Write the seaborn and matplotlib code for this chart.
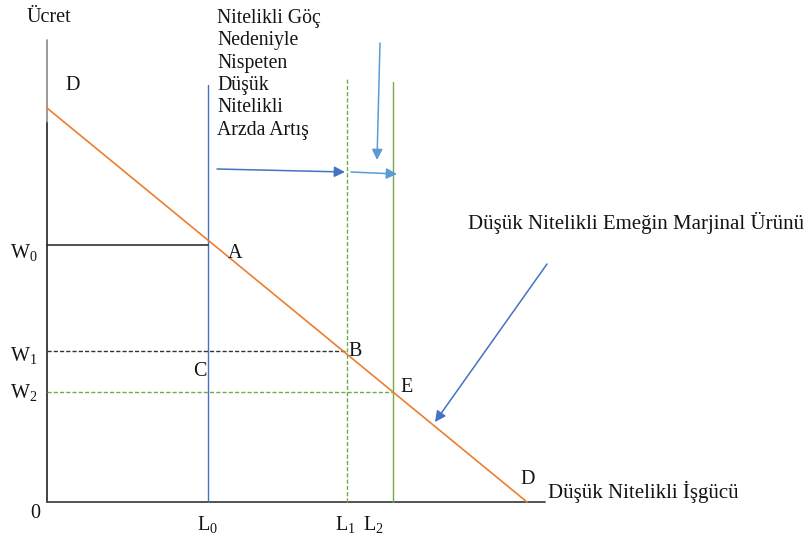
import matplotlib
matplotlib.use("Agg")
import matplotlib.pyplot as plt
import seaborn as sns

sns.set_theme(style="white")
plt.rcParams["font.family"] = ["Liberation Serif", "DejaVu Serif"]
plt.rcParams["mathtext.default"] = "regular"

# ── data (diagram units: origin at 0, labour to the right, wage up) ─────────
demand_L = [0, 480]          # demand / MP line end points on the axes
demand_W = [394, 0]

labor_names = ["L$_0$", "L$_1$", "L$_2$"]
labor_values = [161, 300, 346]
labor_tops = [417, 423, 420]          # how high each supply line reaches

wage_names = ["W$_0$", "W$_1$", "W$_2$"]
wage_values = [257, 151, 110]
wage_ends = [161, 300, 346]           # horizontal guide lines run to these L

axis_top = 462
axis_right = 498

block_text = ["Nitelikli Göç", "Nedeniyle", "Nispeten", "Düşük",
              "Nitelikli", "Arzda Artış"]

BLUE = "#4472C4"
LBLUE = "#5B9BD5"
GREEN = "#70AD47"
ORANGE = "#ED7D31"
INK = "#141414"

fig = plt.figure(figsize=(8.1, 5.44), dpi=100)
ax = fig.add_axes([0, 0, 1, 1])
ax.set_xlim(-47, 763)
ax.set_ylim(-42, 502)
ax.axis("off")

# axes of the diagram
ax.plot([0, 0], [0, 380], color="#222222", lw=1.2)
ax.plot([0, 0], [380, axis_top], color="#8a8a8a", lw=1.2)
ax.plot([0, axis_right], [0, 0], color="#444444", lw=1.3)

# supply lines
ax.plot([labor_values[0]] * 2, [0, labor_tops[0]], color=BLUE, lw=1.0)
ax.plot([labor_values[1]] * 2, [0, labor_tops[1]], color=GREEN, lw=1.0,
        linestyle=(0, (3, 1.5)))
ax.plot([labor_values[2]] * 2, [0, labor_tops[2]], color=GREEN, lw=1.0)

# wage guide lines
ax.plot([0, wage_ends[0]], [wage_values[0]] * 2, color="#222222", lw=1.1)
ax.plot([0, wage_ends[1]], [wage_values[1]] * 2, color="#333333", lw=1.0,
        linestyle=(0, (3, 1.5)))
ax.plot([0, wage_ends[2]], [wage_values[2]] * 2, color=GREEN, lw=1.0,
        linestyle=(0, (3, 1.5)))

# demand (marginal product) line
sns.lineplot(x=demand_L, y=demand_W, ax=ax, color=ORANGE, lw=1.2)

# arrows
arrow = dict(arrowstyle="-|>", lw=1.1, mutation_scale=16, shrinkA=0, shrinkB=0)
ax.annotate("", xy=(labor_values[1] - 2, 330), xytext=(170, 333),
            arrowprops=dict(color=BLUE, **arrow))
ax.annotate("", xy=(labor_values[2] + 4, 328), xytext=(labor_values[1] + 4, 330),
            arrowprops=dict(color=LBLUE, **arrow))
ax.annotate("", xy=(330, 342), xytext=(333, 459),
            arrowprops=dict(color=LBLUE, **arrow))
ax.annotate("", xy=(388, 80), xytext=(500, 238),
            arrowprops=dict(color=BLUE, **arrow))

# text
fs = 14.5
ax.text(-20, 484, "Ücret", fontsize=fs, color=INK, va="center")
ax.text(170, 493, "\n".join(block_text), fontsize=14.2, color=INK,
        va="top", linespacing=1.24)
ax.text(421, 279, "Düşük Nitelikli Emeğin Marjinal Ürünü", fontsize=15,
        color=INK, va="center")
ax.text(501, 10, "Düşük Nitelikli İşgücü", fontsize=15, color=INK, va="center")

ax.text(18, 417, "D", fontsize=fs, color=INK, va="center")
ax.text(181, 249, "A", fontsize=fs, color=INK, va="center")
ax.text(301, 150, "B", fontsize=fs, color=INK, va="center")
ax.text(146, 130, "C", fontsize=fs, color=INK, va="center")
ax.text(353, 114, "E", fontsize=fs, color=INK, va="center")
ax.text(473, 22, "D", fontsize=fs, color=INK, va="center")
ax.text(-12, -11, "0", fontsize=fs, color=INK, va="center", ha="center")

wage_baselines = [244, 141, 104]
for name, yb in zip(wage_names, wage_baselines):
    ax.text(-37, yb, name, fontsize=fs, color=INK, va="baseline")

label_left = [150, 288, 316]
for name, xl in zip(labor_names, label_left):
    ax.text(xl, -28, name, fontsize=fs, color=INK, va="baseline")

fig.savefig("out.png", dpi=100)
